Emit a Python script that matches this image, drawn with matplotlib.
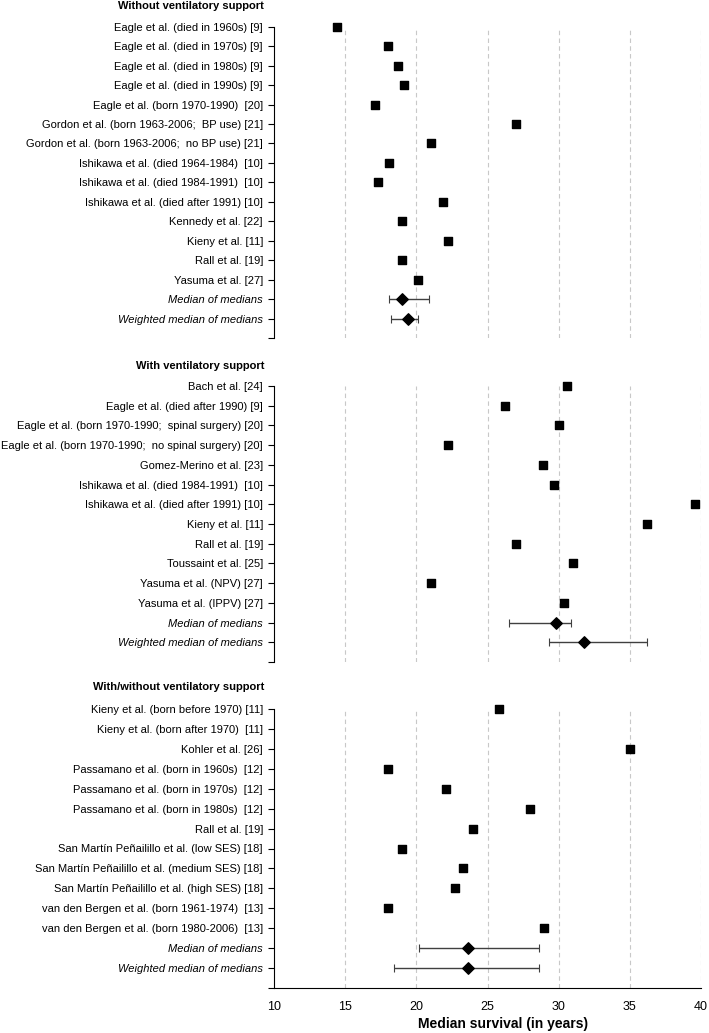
import matplotlib.pyplot as plt
import numpy as np

plt.rcParams['font.family'] = ['Liberation Sans', 'DejaVu Sans']

# Panel 1: without ventilatory support
labels_1 = [
    'Eagle et al. (died in 1960s) [9]',
    'Eagle et al. (died in 1970s) [9]',
    'Eagle et al. (died in 1980s) [9]',
    'Eagle et al. (died in 1990s) [9]',
    'Eagle et al. (born 1970-1990)  [20]',
    'Gordon et al. (born 1963-2006;  BP use) [21]',
    'Gordon et al. (born 1963-2006;  no BP use) [21]',
    'Ishikawa et al. (died 1964-1984)  [10]',
    'Ishikawa et al. (died 1984-1991)  [10]',
    'Ishikawa et al. (died after 1991) [10]',
    'Kennedy et al. [22]',
    'Kieny et al. [11]',
    'Rall et al. [19]',
    'Yasuma et al. [27]',
]
values_1 = [14.4, 18.0, 18.7, 19.1, 17.1, 27.0, 21.0, 18.1, 17.3, 21.9, 19.0, 22.2, 19.0, 20.1]
summary_1 = [19.0, 19.4]
low_1 = [18.1, 18.2]
high_1 = [20.9, 20.1]

# Panel 2: with ventilatory support
labels_2 = [
    'Bach et al. [24]',
    'Eagle et al. (died after 1990) [9]',
    'Eagle et al. (born 1970-1990;  spinal surgery) [20]',
    'Eagle et al. (born 1970-1990;  no spinal surgery) [20]',
    'Gomez-Merino et al. [23]',
    'Ishikawa et al. (died 1984-1991)  [10]',
    'Ishikawa et al. (died after 1991) [10]',
    'Kieny et al. [11]',
    'Rall et al. [19]',
    'Toussaint et al. [25]',
    'Yasuma et al. (NPV) [27]',
    'Yasuma et al. (IPPV) [27]',
]
values_2 = [30.6, 26.2, 30.0, 22.2, 28.9, 29.7, 39.6, 36.2, 27.0, 31.0, 21.0, 30.4]
summary_2 = [29.8, 31.8]
low_2 = [26.5, 29.3]
high_2 = [30.9, 36.2]

# Panel 3: with/without ventilatory support
labels_3 = [
    'Kieny et al. (born before 1970) [11]',
    'Kieny et al. (born after 1970)  [11]',
    'Kohler et al. [26]',
    'Passamano et al. (born in 1960s)  [12]',
    'Passamano et al. (born in 1970s)  [12]',
    'Passamano et al. (born in 1980s)  [12]',
    'Rall et al. [19]',
    'San Martín Peñailillo et al. (low SES) [18]',
    'San Martín Peñailillo et al. (medium SES) [18]',
    'San Martín Peñailillo et al. (high SES) [18]',
    'van den Bergen et al. (born 1961-1974)  [13]',
    'van den Bergen et al. (born 1980-2006)  [13]',
]
values_3 = [25.8, np.nan, 35.0, 18.0, 22.1, 28.0, 24.0, 19.0, 23.3, 22.7, 18.0, 29.0]
summary_3 = [23.6, 23.6]
low_3 = [20.2, 18.4]
high_3 = [28.6, 28.6]

summary_labels = ['Median of medians', 'Weighted median of medians']
headers = ['Without ventilatory support', 'With ventilatory support',
           'With/without ventilatory support']

fig = plt.figure(figsize=(7.09, 10.33), dpi=100)
W, H = 709, 1033
left, right = 274 / W, 701 / W
# (top row y, bottom spine y, header y) in pixels
frames = [(26.7, 338, 6), (386, 662, 366), (709, 988, 687)]

panels = [
    (labels_1, values_1, summary_1, low_1, high_1),
    (labels_2, values_2, summary_2, low_2, high_2),
    (labels_3, values_3, summary_3, low_3, high_3),
]

for i, ((labels, vals, summ, lo, hi), (ytop, ybot, yhead), head) in enumerate(
        zip(panels, frames, headers)):
    ax = fig.add_axes([left, 1 - ybot / H, right - left, (ybot - ytop) / H])
    n = len(labels) + 2
    rows = np.arange(1, len(labels) + 1)
    srows = np.array([len(labels) + 1, len(labels) + 2])

    ax.scatter(vals, rows, marker='s', s=32, color='black', zorder=3, clip_on=False)
    summ = np.array(summ)
    ax.errorbar(summ, srows, xerr=[summ - np.array(lo), np.array(hi) - summ],
                fmt='none', ecolor='#404040', elinewidth=1.0, capsize=3,
                capthick=0.8, zorder=2)
    ax.scatter(summ, srows, marker='D', s=34, color='black', zorder=3)

    ax.set_xlim(10, 40)
    ax.set_ylim(n + 1, 1)
    ax.set_yticks(np.arange(1, n + 2))
    ax.set_yticklabels(labels + summary_labels + [''], fontsize=8)
    for t in ax.get_yticklabels()[len(labels):]:
        t.set_style('italic')
    ax.tick_params(axis='y', length=4, width=0.8, pad=4)

    for g in [15, 20, 25, 30, 35, 40]:
        ax.axvline(g, color='#c8c8c8', lw=0.8, ls=(0, (4, 3)), zorder=1)

    ax.spines['top'].set_visible(False)
    ax.spines['right'].set_visible(False)
    ax.spines['left'].set_linewidth(0.8)
    if i < 2:
        ax.spines['bottom'].set_visible(False)
        ax.set_xticks([])
    else:
        ax.spines['bottom'].set_linewidth(0.8)
        ax.set_xticks([10, 15, 20, 25, 30, 35, 40])
        ax.tick_params(axis='x', length=0, pad=9, labelsize=9)
        ax.set_xlabel('Median survival (in years)', fontsize=10,
                      fontweight='bold', labelpad=5)
        ax.xaxis.set_label_coords(0.536, -0.105)

    fig.text(264 / W, 1 - yhead / H, head, ha='right', va='center',
             fontsize=8, fontweight='bold')

fig.savefig('out.png', dpi=100)
